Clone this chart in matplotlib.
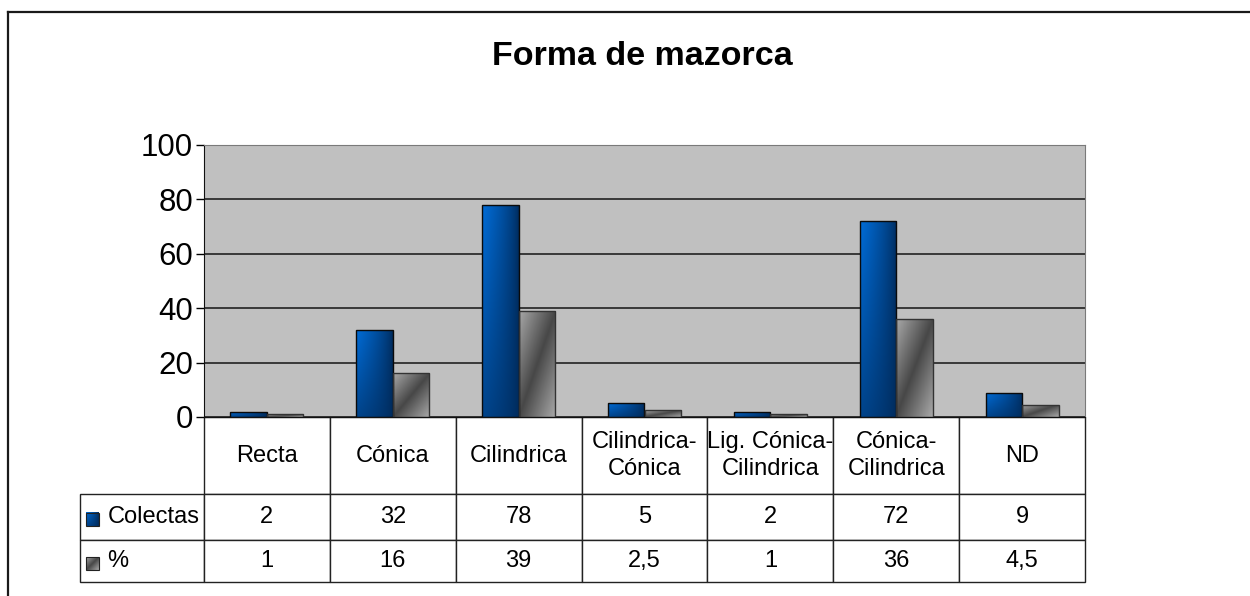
import numpy as np
import matplotlib.pyplot as plt
from matplotlib.patches import Rectangle
from matplotlib.lines import Line2D

plt.rcParams['font.family'] = ['Liberation Sans', 'DejaVu Sans']

categories = ["Recta", "Cónica", "Cilindrica", "Cilindrica-\nCónica",
              "Lig. Cónica-\nCilindrica", "Cónica-\nCilindrica", "ND"]
series_names = ["Colectas", "%"]
colectas = [2, 32, 78, 5, 2, 72, 9]
porcentaje = [1, 16, 39, 2.5, 1, 36, 4.5]
y_ticks = [0, 20, 40, 60, 80, 100]


def fmt(v):
    # comma as decimal separator, like the original sheet
    return f"{v:g}".replace(".", ",")


def blue_grad(n=60):
    x = np.linspace(0, 1, n)[None, :]
    y = np.linspace(0, 1, n)[:, None]
    f = (1 - x) ** 0.7 * (1 - 0.6 * y)
    light = np.array([0, 108, 215]) / 255
    dark = np.array([0, 42, 90]) / 255
    return dark + (light - dark) * f[..., None]


def gray_grad(n=60):
    x = np.linspace(0, 1, n)[None, :]
    y = np.linspace(0, 1, n)[:, None]
    t = np.abs(x + y - 1)
    light, dark = 0.66, 0.28
    g = dark + (light - dark) * t
    return np.repeat(g[..., None], 3, axis=2)


fig = plt.figure(figsize=(12.5, 5.96), dpi=100)
ax = fig.add_axes([204 / 1250, 179 / 596, 881 / 1250, 272 / 596])
ax.set_facecolor('#c0c0c0')

x = np.arange(len(categories))
w = 0.29
grads = [blue_grad(), gray_grad()]
edges = ['#0a0a0a', '#333333']
for k, vals in enumerate([colectas, porcentaje]):
    bars = ax.bar(x + (k - 0.5) * w, vals, w, facecolor='none',
                  edgecolor=edges[k], linewidth=1.0, zorder=3)
    for b in bars:
        x0, y0 = b.get_x(), b.get_y()
        im = ax.imshow(grads[k], extent=(x0, x0 + b.get_width(), y0, y0 + b.get_height()),
                       origin='upper', aspect='auto', zorder=2, interpolation='bilinear')
        im.set_clip_path(b)

ax.set_xlim(-0.5, len(categories) - 0.5)
ax.set_ylim(0, 100)
ax.set_yticks(y_ticks)
ax.set_xticks([])
ax.tick_params(axis='y', labelsize=22.5, length=6, width=1, pad=2)
ax.yaxis.grid(True, color='#151515', linewidth=1.1)
ax.set_axisbelow(True)
for s in ['left', 'bottom']:
    ax.spines[s].set_color('#111111')
for s in ['top', 'right']:
    ax.spines[s].set_color('#7a7a7a')
    ax.spines[s].set_linewidth(0.8)

# data table under the plot
row_h = [77 / 272, 46 / 272, 42 / 272]
label_w = 124 / 881
tbl = ax.table(cellText=[[fmt(v) for v in colectas], [fmt(v) for v in porcentaje]],
               rowLabels=series_names, colLabels=categories,
               loc='bottom', cellLoc='center', rowLoc='left')
tbl._autoColumns = []  # keep the fixed width of the label column
tbl.auto_set_font_size(False)
tbl.set_fontsize(17)
for (r, c), cell in tbl.get_celld().items():
    cell.set_height(row_h[r])
    cell.set_width(label_w if c == -1 else 1 / len(categories))
    cell.set_edgecolor('#222222')
    cell.set_linewidth(1.0)
    cell.get_text().set_linespacing(1.3)
    if c == -1:
        cell.PAD = 0.22

# legend keys in the row labels
sq_w, sq_h = 13 / 881, 13 / 272
sq_x = (86 - 204) / 881
for k in range(2):
    cy = -(sum(row_h[:k + 1]) + row_h[k + 1] / 2) - 0.01
    ext = (sq_x, sq_x + sq_w, cy - sq_h / 2, cy + sq_h / 2)
    ax.imshow(grads[k], extent=ext, transform=ax.transAxes, origin='upper',
              aspect='auto', clip_on=False, zorder=5)
    ax.add_patch(Rectangle((ext[0], ext[2]), sq_w, sq_h, transform=ax.transAxes,
                           facecolor='none', edgecolor='#222222', linewidth=0.8,
                           clip_on=False, zorder=6))
ax.set_xlim(-0.5, len(categories) - 0.5)
ax.set_ylim(0, 100)

fig.text(642 / 1250, 1 - 65 / 596, "Forma de mazorca", ha='center', va='baseline',
         fontsize=24.5, fontweight='bold')

# page frame (top and left edges)
fig.add_artist(Line2D([8 / 1250, 1], [1 - 12 / 596] * 2, color='#1a1a1a', linewidth=1.6))
fig.add_artist(Line2D([8 / 1250] * 2, [0, 1 - 12 / 596], color='#1a1a1a', linewidth=1.6))

fig.savefig("out.png", dpi=100)
